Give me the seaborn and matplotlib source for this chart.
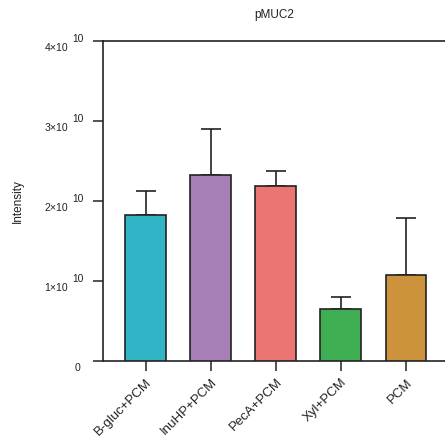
import numpy as np
import pandas as pd
import matplotlib
matplotlib.use("Agg")
import matplotlib.pyplot as plt
import seaborn as sns

# Group names, mean intensities and upper error (SD) per group
groups = ["B-gluc+PCM", "InuHP+PCM", "PecA+PCM", "Xyl+PCM", "PCM"]
means = [1.82e10, 2.32e10, 2.19e10, 0.655e10, 1.08e10]
errors = [0.31e10, 0.58e10, 0.18e10, 0.145e10, 0.71e10]
colors = ["#31B5C6", "#A57FB5", "#EA7572", "#3FAE52", "#CC933C"]
y_ticks = [0, 1e10, 2e10, 3e10, 4e10]
y_tick_mantissas = ["0", "1×10", "2×10", "3×10", "4×10"]
y_tick_exponents = ["", "10", "10", "10", "10"]

sns.set_style("ticks")
plt.rcParams["font.family"] = ["Liberation Sans", "DejaVu Sans"]

df = pd.DataFrame({"group": groups, "value": means})

fig = plt.figure(figsize=(4.45, 4.45), dpi=100)
ax = fig.add_axes([103 / 445, 84 / 445, 342 / 445, 320 / 445])

sns.barplot(data=df, x="group", y="value", hue="group", palette=colors,
            order=groups, hue_order=groups, errorbar=None, width=0.63,
            edgecolor="#222222", linewidth=1.2, legend=False, ax=ax,
            saturation=1, zorder=3)

x = np.arange(len(groups))
ax.errorbar(x, means, yerr=[np.zeros(len(errors)), errors], fmt="none",
            ecolor="#222222", elinewidth=1.2, capsize=7.5, capthick=1.2,
            zorder=2)

ax.set_xlim(-0.66, 4.6)
ax.set_ylim(0, 4e10)
ax.set_yticks(y_ticks)
ax.set_yticklabels([])
ax.set_xticks(x)
ax.set_xticklabels(groups, rotation=45, ha="right", rotation_mode="anchor",
                   fontsize=9.5, color="#222222")
ax.set_xlabel("")
ax.set_ylabel("")

# y tick labels written as mantissa with a raised, nearly full-size exponent
ytrans = ax.get_yaxis_transform()
for val, mant, expo in zip(y_ticks, y_tick_mantissas, y_tick_exponents):
    if expo:
        ax.annotate(mant, xy=(0, val), xycoords=ytrans, xytext=(-25, -7.0),
                    textcoords="offset points", ha="right", va="baseline",
                    fontsize=7.6, color="#222222", annotation_clip=False)
        ax.annotate(expo, xy=(0, val), xycoords=ytrans, xytext=(-13.6, -0.9),
                    textcoords="offset points", ha="right", va="baseline",
                    fontsize=7.4, color="#222222", annotation_clip=False)
    else:
        ax.annotate(mant, xy=(0, val), xycoords=ytrans, xytext=(-16.5, -7.0),
                    textcoords="offset points", ha="right", va="baseline",
                    fontsize=7.6, color="#222222", annotation_clip=False)

for side in ["left", "bottom", "top"]:
    ax.spines[side].set_linewidth(1.2)
    ax.spines[side].set_color("#222222")
ax.spines["right"].set_visible(False)
ax.tick_params(axis="both", length=7, width=1.1, color="#222222")
ax.tick_params(axis="x", pad=4)

fig.text(274 / 445, 1 - 15 / 445, "pMUC2", ha="center", va="center",
         fontsize=8.5, color="#222222")
fig.text(18 / 445, 1 - 201 / 445, "Intensity", ha="center", va="center",
         rotation=90, fontsize=8.5, color="#222222")

fig.savefig("out.png", dpi=100)
